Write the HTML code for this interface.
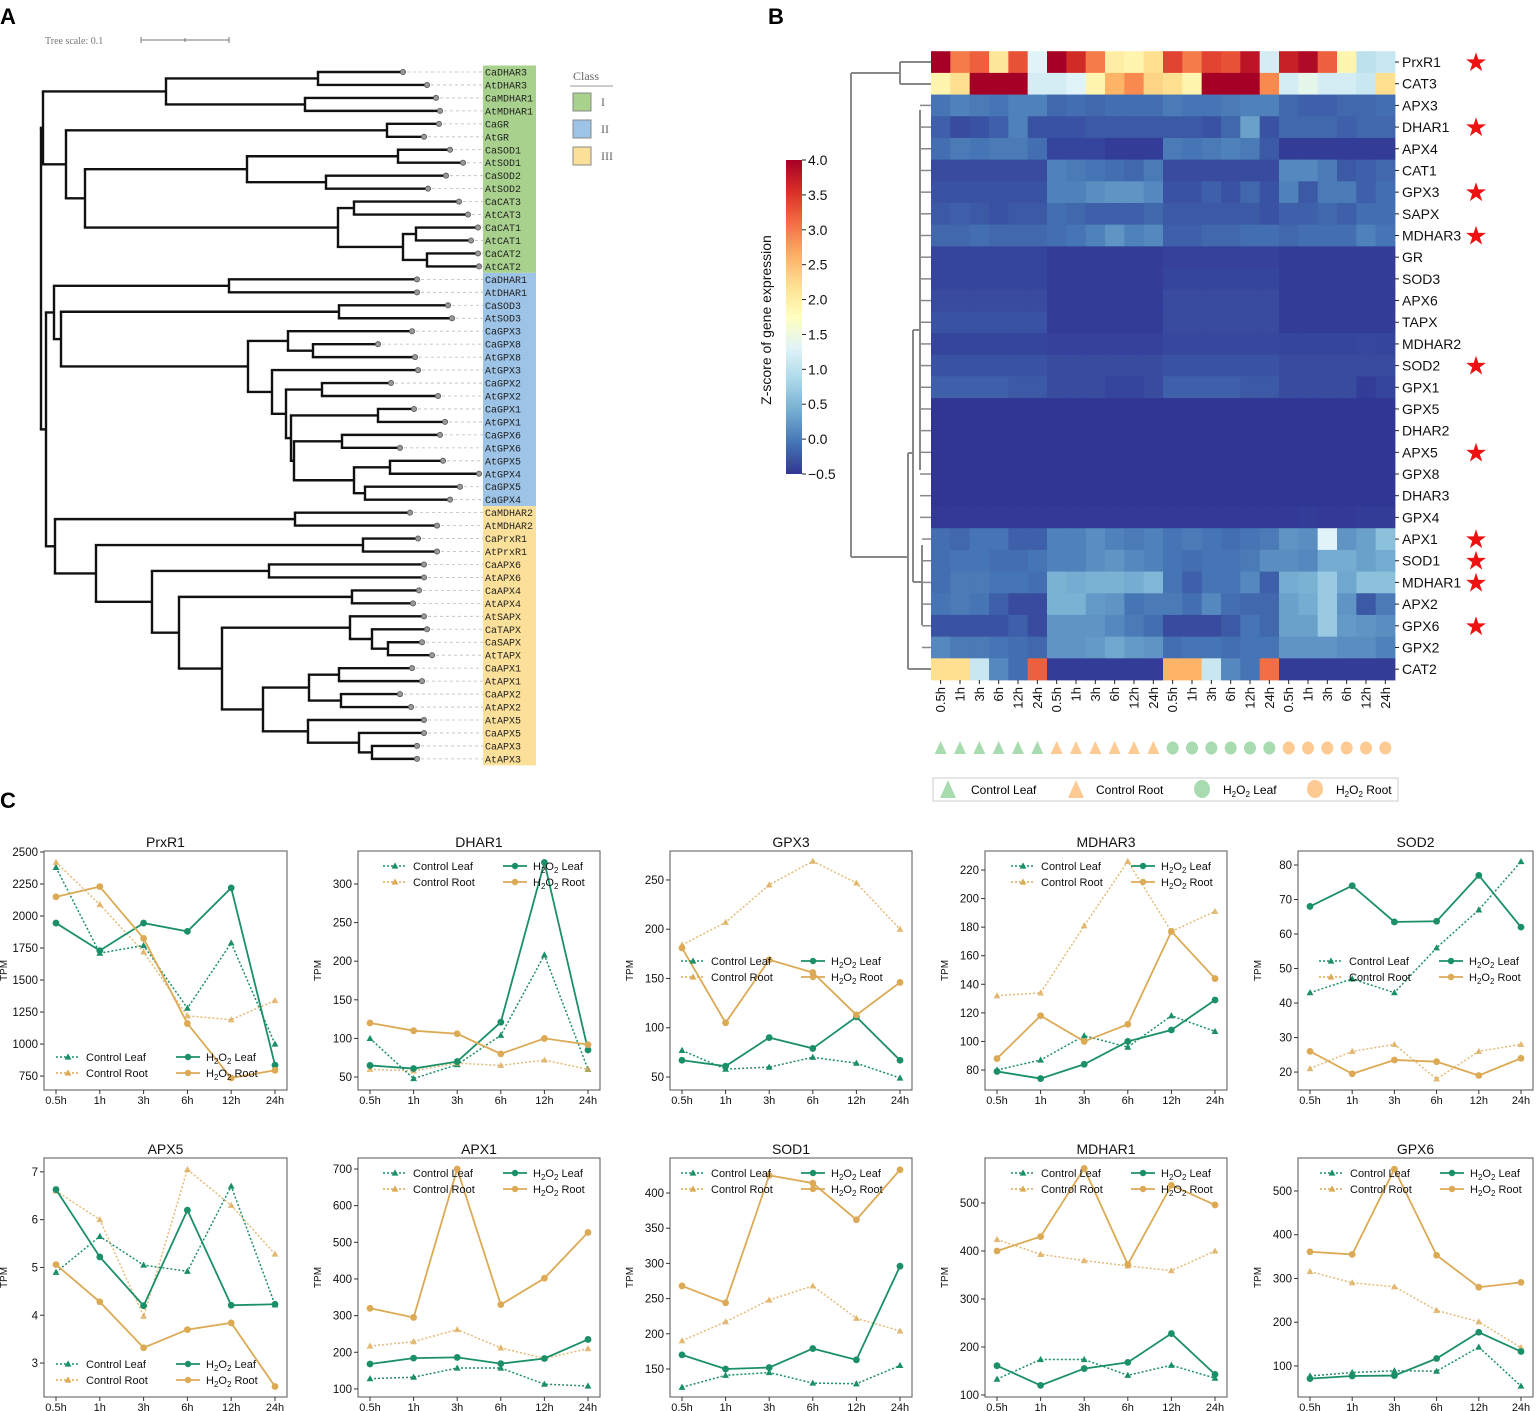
<!DOCTYPE html>
<html><head><meta charset="utf-8"><style>
html,body{margin:0;padding:0;background:#fff}
svg{display:block;font-family:"Liberation Sans",sans-serif}
</style></head><body>
<svg id="fig" width="1536" height="1411" viewBox="0 0 1536 1411" xmlns="http://www.w3.org/2000/svg">
<text x="0" y="24" font-size="22" font-weight="bold">A</text>
<text x="768" y="24" font-size="22" font-weight="bold">B</text>
<text x="0" y="808" font-size="22" font-weight="bold">C</text>
<g>
<text x="45" y="44" font-size="10" fill="#777" font-family="Liberation Serif,serif">Tree scale: 0.1</text>
<line x1="141" y1="40" x2="229" y2="40" stroke="#777" stroke-width="1"/>
<line x1="141" y1="37" x2="141" y2="43" stroke="#777"/><line x1="229" y1="37" x2="229" y2="43" stroke="#777"/><line x1="185" y1="38" x2="185" y2="42" stroke="#777"/>
</g>
<g font-family="Liberation Serif,serif" font-size="12" fill="#666">
<text x="573" y="80">Class</text><line x1="570" y1="86" x2="613" y2="86" stroke="#999"/>
<rect x="573" y="93" width="18" height="18" fill="#a9d18e" stroke="#888"/><text x="601" y="106">I</text>
<rect x="573" y="120" width="18" height="18" fill="#9dc3e6" stroke="#888"/><text x="601" y="133">II</text>
<rect x="573" y="147" width="18" height="18" fill="#fbe09a" stroke="#888"/><text x="601" y="160">III</text>
</g>
<g id="tree"></g>
<g id="heat"></g>
<g id="lines"></g>
</svg>
<script>
const NS="http://www.w3.org/2000/svg";
function mk(p,t,a){const e=document.createElementNS(NS,t);for(const k in a)e.setAttribute(k,a[k]);p.appendChild(e);return e;}

// ---------- Panel A tree ----------
const treeData=[41,
 [43,
  [166,[318,["CaDHAR3",403],["AtDHAR3",427]],[305,["CaMDHAR1",436],["AtMDHAR1",440]]],
  [66,[387,["CaGR",439],["AtGR",424]],
   [85,[247,[398,["CaSOD1",450],["AtSOD1",463]],[326,["CaSOD2",446],["AtSOD2",428]]],
       [338,[354,["CaCAT3",459],["AtCAT3",468]],[403,[416,["CaCAT1",478],["AtCAT1",471]],[427,["CaCAT2",478],["AtCAT2",479]]]]]]],
 [46,
  [54,[229,["CaDHAR1",417],["AtDHAR1",417]],
   [61,[339,["CaSOD3",448],["AtSOD3",452]],
    [248,[288,["CaGPX3",412],[313,["CaGPX8",378],["AtGPX8",415]]],
     [272,["AtGPX3",418],
      [286,[322,["CaGPX2",391],["AtGPX2",438]],
       [291,[378,["CaGPX1",414],["AtGPX1",445]],
        [294,[342,["CaGPX6",440],["AtGPX6",400]],
         [354,[390,["AtGPX5",443],["AtGPX4",479]],[365,["CaGPX5",460],["CaGPX4",450]]]]]]]]]],
  [55,[295,["CaMDHAR2",410],["AtMDHAR2",437]],
   [96,[363,["CaPrxR1",418],["AtPrxR1",437]],
    [152,[269,["CaAPX6",424],["AtAPX6",424]],
     [179,[352,["CaAPX4",419],["AtAPX4",413]],
      [222,[350,["AtSAPX",424],[372,["CaTAPX",427],[388,["CaSAPX",422],["AtTAPX",432]]]],
       [263,[309,[339,["CaAPX1",412],["AtAPX1",422]],[341,["CaAPX2",400],["AtAPX2",411]]],
        [308,["AtAPX5",424],[359,["CaAPX5",424],[372,["CaAPX3",417],["AtAPX3",417]]]]]]]]]]]];
const classSizes=[16,18,20];
const classColors=["#a9d18e","#9dc3e6","#fbe09a"];
const tree=document.getElementById('tree');
let leafIdx=0;const leafY0=72,leafDY=12.96;
const leaves=[];
function walk(n){
  if(typeof n[0]==='string'){const y=leafY0+leafIdx*leafDY;leaves.push({name:n[0],x:n[1],y,i:leafIdx});leafIdx++;return {x:n[1],y};}
  const kids=n.slice(1).map(walk);
  const y=(kids[0].y+kids[kids.length-1].y)/2;
  const v=mk(tree,'line',{x1:n[0],x2:n[0],y1:kids[0].y,y2:kids[kids.length-1].y,stroke:'#111','stroke-width':2.4});
  
  kids.forEach(k=>{const h=mk(tree,'line',{x1:n[0]-1.2,x2:k.x,y1:k.y,y2:k.y,stroke:'#111','stroke-width':2.4});
    });
  return {x:n[0],y};
}
walk(treeData);
let start=0;
classSizes.forEach((s,ci)=>{const r=mk(tree,'rect',{x:483,y:leafY0+start*leafDY-6.5,width:53,height:s*leafDY,fill:classColors[ci]});
  start+=s;});
leaves.forEach(l=>{
  mk(tree,'line',{x1:l.x+4,x2:483,y1:l.y,y2:l.y,stroke:'#bbb','stroke-width':0.8,'stroke-dasharray':'3,3'});
  const c=mk(tree,'circle',{cx:l.x,cy:l.y,r:2.6,fill:'#999',stroke:'#555','stroke-width':0.8});
  
  const t=mk(tree,'text',{x:485,y:l.y+3.5,'font-size':10,'font-family':'Liberation Mono,monospace',fill:'#222'});
  t.textContent=l.name;
});

// ---------- Panel B heatmap ----------
const heatGenes=["PrxR1","CAT3","APX3","DHAR1","APX4","CAT1","GPX3","SAPX","MDHAR3","GR","SOD3","APX6","TAPX","MDHAR2","SOD2","GPX1","GPX5","DHAR2","APX5","GPX8","DHAR3","GPX4","APX1","SOD1","MDHAR1","APX2","GPX6","GPX2","CAT2"];
const starGenes=["PrxR1","DHAR1","GPX3","MDHAR3","SOD2","APX5","APX1","SOD1","MDHAR1","GPX6"];
const heatCols=["0.5h","1h","3h","6h","12h","24h","0.5h","1h","3h","6h","12h","24h","0.5h","1h","3h","6h","12h","24h","0.5h","1h","3h","6h","12h","24h"];
const colGroups=[0,0,0,0,0,0,1,1,1,1,1,1,2,2,2,2,2,2,3,3,3,3,3,3];
const heatZ=[
[4,3,3.2,2.1,3.3,1.3, 4,3.6,3,2,1.9,2.2, 3.4,3,3.4,3.3,3.8,1.2, 3.7,3.9,3.2,1.9,1.0,1.1],
[1.9,2.2,4,4,4,1.2, 1.2,1.3,1.9,2.6,2.9,2.3, 2.2,1.9,4,4,4,2.9, 1.2,1.4,1.2,1.2,1.1,2.2],
[-0.05,0.05,0.0,-0.05,0.05,0.05, -0.15,-0.1,-0.15,-0.1,-0.1,-0.1, 0.0,-0.05,-0.05,0.0,0.05,0.05, -0.15,-0.2,-0.2,-0.15,-0.15,-0.1],
[-0.2,-0.35,-0.3,-0.2,0.05,-0.3, -0.3,-0.3,-0.25,-0.25,-0.25,-0.25, -0.25,-0.25,-0.3,-0.15,0.3,-0.3, -0.15,-0.15,-0.15,-0.2,-0.15,-0.15],
[-0.1,0.0,-0.05,0.0,0.0,-0.1, -0.4,-0.4,-0.4,-0.45,-0.45,-0.45, 0.0,-0.05,0.0,0.05,0.0,-0.25, -0.45,-0.45,-0.45,-0.45,-0.45,-0.45],
[-0.35,-0.35,-0.35,-0.35,-0.35,-0.35, 0.05,0.0,-0.05,-0.1,-0.15,0.0, -0.35,-0.35,-0.35,-0.35,-0.35,-0.35, 0.1,0.1,0.0,-0.25,-0.2,-0.15],
[-0.3,-0.3,-0.3,-0.3,-0.3,-0.3, 0.05,0.05,0.15,0.2,0.2,0.1, -0.3,-0.3,-0.2,-0.3,-0.15,-0.3, 0.05,-0.25,0.0,0.0,-0.2,-0.1],
[-0.25,-0.2,-0.25,-0.3,-0.25,-0.25, -0.1,-0.15,-0.2,-0.2,-0.2,-0.15, -0.25,-0.25,-0.25,-0.25,-0.25,-0.3, -0.2,-0.2,-0.15,-0.2,-0.1,-0.1],
[-0.15,-0.15,-0.1,-0.15,-0.15,-0.15, -0.1,-0.05,0.05,0.2,0.05,0.1, -0.2,-0.2,-0.15,-0.15,-0.1,-0.1, -0.15,-0.1,-0.1,-0.1,0.05,-0.05],
[-0.4,-0.4,-0.4,-0.4,-0.4,-0.4, -0.45,-0.45,-0.45,-0.45,-0.45,-0.45, -0.42,-0.42,-0.42,-0.42,-0.42,-0.42, -0.45,-0.45,-0.45,-0.45,-0.45,-0.45],
[-0.4,-0.4,-0.4,-0.4,-0.4,-0.4, -0.45,-0.45,-0.45,-0.45,-0.45,-0.45, -0.4,-0.4,-0.4,-0.4,-0.4,-0.4, -0.45,-0.45,-0.45,-0.45,-0.45,-0.45],
[-0.35,-0.35,-0.35,-0.35,-0.35,-0.35, -0.45,-0.45,-0.45,-0.45,-0.45,-0.45, -0.35,-0.35,-0.35,-0.35,-0.35,-0.35, -0.45,-0.45,-0.45,-0.45,-0.45,-0.45],
[-0.3,-0.3,-0.3,-0.3,-0.3,-0.3, -0.45,-0.45,-0.45,-0.45,-0.45,-0.45, -0.35,-0.35,-0.35,-0.35,-0.35,-0.35, -0.45,-0.45,-0.45,-0.45,-0.45,-0.45],
[-0.4,-0.4,-0.4,-0.4,-0.4,-0.4, -0.42,-0.42,-0.42,-0.42,-0.42,-0.42, -0.38,-0.38,-0.38,-0.38,-0.38,-0.38, -0.4,-0.4,-0.4,-0.4,-0.38,-0.4],
[-0.3,-0.3,-0.3,-0.3,-0.3,-0.3, -0.35,-0.35,-0.35,-0.35,-0.35,-0.35, -0.3,-0.3,-0.3,-0.3,-0.3,-0.3, -0.35,-0.35,-0.35,-0.35,-0.35,-0.35],
[-0.2,-0.2,-0.2,-0.2,-0.25,-0.25, -0.35,-0.35,-0.35,-0.4,-0.4,-0.35, -0.2,-0.2,-0.2,-0.2,-0.25,-0.25, -0.35,-0.35,-0.35,-0.35,-0.45,-0.4],
[-0.5,-0.5,-0.5,-0.5,-0.5,-0.5, -0.5,-0.5,-0.5,-0.5,-0.5,-0.5, -0.5,-0.5,-0.5,-0.5,-0.5,-0.5, -0.5,-0.5,-0.5,-0.5,-0.5,-0.5],
[-0.5,-0.5,-0.5,-0.5,-0.5,-0.5, -0.5,-0.5,-0.5,-0.5,-0.5,-0.5, -0.5,-0.5,-0.5,-0.5,-0.5,-0.5, -0.5,-0.5,-0.5,-0.5,-0.5,-0.5],
[-0.5,-0.5,-0.5,-0.5,-0.5,-0.5, -0.5,-0.5,-0.5,-0.5,-0.5,-0.5, -0.5,-0.5,-0.5,-0.5,-0.5,-0.5, -0.5,-0.5,-0.5,-0.5,-0.5,-0.5],
[-0.5,-0.5,-0.5,-0.5,-0.5,-0.5, -0.5,-0.5,-0.5,-0.5,-0.5,-0.5, -0.5,-0.5,-0.5,-0.5,-0.5,-0.5, -0.5,-0.5,-0.5,-0.5,-0.5,-0.5],
[-0.5,-0.5,-0.5,-0.5,-0.5,-0.5, -0.5,-0.5,-0.5,-0.5,-0.5,-0.5, -0.5,-0.5,-0.5,-0.5,-0.5,-0.5, -0.5,-0.5,-0.5,-0.5,-0.5,-0.5],
[-0.48,-0.48,-0.48,-0.48,-0.48,-0.48, -0.48,-0.48,-0.48,-0.48,-0.48,-0.48, -0.48,-0.48,-0.48,-0.48,-0.48,-0.48, -0.48,-0.45,-0.48,-0.48,-0.45,-0.45],
[-0.1,-0.15,-0.05,-0.05,-0.2,-0.2, 0.05,0.05,0.15,0.05,0.0,0.05, -0.05,0.0,-0.05,-0.1,-0.05,0.0, 0.2,0.15,1.3,0.2,0.3,0.6],
[-0.1,-0.05,-0.05,-0.1,-0.1,-0.05, 0.05,0.05,0.15,0.2,0.1,0.05, -0.05,-0.1,-0.05,-0.05,0.0,0.15, 0.15,0.1,0.4,0.4,0.3,0.4],
[-0.1,0.0,0.0,-0.05,-0.05,-0.1, 0.45,0.4,0.45,0.45,0.4,0.5, -0.05,-0.2,-0.05,-0.05,0.1,-0.2, 0.4,0.45,0.7,0.35,0.6,0.6],
[-0.05,0.0,-0.05,-0.2,-0.35,-0.35, 0.45,0.45,0.25,0.2,-0.05,0.0, 0.0,-0.1,0.1,-0.1,-0.15,-0.15, 0.3,0.4,0.7,0.2,-0.25,0.0],
[-0.3,-0.3,-0.3,-0.3,-0.2,-0.35, 0.2,0.2,0.2,0.1,0.0,-0.1, -0.35,-0.35,-0.35,-0.25,-0.05,-0.15, 0.3,0.3,0.7,0.25,0.2,0.15],
[0.1,0.0,0.0,-0.05,-0.1,-0.15, 0.2,0.2,0.25,0.35,0.25,0.2, -0.1,-0.05,-0.05,-0.1,-0.05,-0.05, 0.2,0.2,0.2,0.15,0.15,0.05],
[2.2,2.2,1.1,0.1,-0.1,3.2, -0.45,-0.45,-0.45,-0.45,-0.45,-0.45, 2.6,2.6,1.1,0.1,-0.05,3.1, -0.45,-0.45,-0.45,-0.45,-0.45,-0.45]];
const cbTicks=[4.0,3.5,3.0,2.5,2.0,1.5,1.0,0.5,0.0,-0.5];
const zMin=-0.5,zMax=4;
const stops=["#313695","#4575b4","#74add1","#abd9e9","#e0f3f8","#ffffbf","#fee090","#fdae61","#f46d43","#d73027","#a50026"];
function hx(c){return [parseInt(c.substr(1,2),16),parseInt(c.substr(3,2),16),parseInt(c.substr(5,2),16)];}
function cmap(v){let t=(v-zMin)/(zMax-zMin);t=Math.max(0,Math.min(1,t));const p=t*10,i=Math.min(9,Math.floor(p)),f=p-i;
  const a=hx(stops[i]),b=hx(stops[i+1]);return 'rgb('+a.map((x,k)=>Math.round(x+(b[k]-x)*f)).join(',')+')';}
const heat=document.getElementById('heat');
const hx0=931,hy0=51.2,cw=(1395-931)/24,rh=(680-51.2)/29;
heatZ.forEach((row,r)=>{row.forEach((v,c)=>{
  const e=mk(heat,'rect',{x:hx0+c*cw,y:hy0+r*rh,width:cw+0.4,height:rh+0.4,fill:cmap(v)});
  });});
heatGenes.forEach((g,r)=>{const y=hy0+(r+0.5)*rh;
  mk(heat,'line',{x1:1395,x2:1399,y1:y,y2:y,stroke:'#222'});
  const t=mk(heat,'text',{x:1402,y:y+5,'font-size':14,fill:'#111'});t.textContent=g;
  
  if(starGenes.includes(g)){const s=mk(heat,'text',{x:1476,y:y+9,'font-size':26,fill:'#ee1111','text-anchor':'middle'});s.textContent='★';
    }
});
const symColors=["#a8dcb0","#fdca93"];
heatCols.forEach((c,i)=>{const x=hx0+(i+0.5)*cw;
  mk(heat,'line',{x1:x,x2:x,y1:680,y2:684,stroke:'#222'});
  const t=mk(heat,'text',{x:0,y:0,'font-size':13,fill:'#111','text-anchor':'end',transform:`translate(${x+4.5},${687}) rotate(-90)`});t.textContent=c;
  
  const g=colGroups[i],col=symColors[g%2];let s;
  if(g<2){s=mk(heat,'path',{d:`M${x},${741} L${x+6},${754} L${x-6},${754}Z`,fill:col});}
  else{s=mk(heat,'ellipse',{cx:x,cy:748,rx:6,ry:6.5,fill:col});}
  
});
const dend=[[900,62,900,84],[900,62,931,62],[900,84,931,84],[851,73,900,73],[851,73,851,557],[851,557,908,557],
[908,453,908,669],[908,669,931,669],[908,453,913,453],[913,330,913,582],[913,330,920,330],[913,582,922,582],
[920,110,920,470],[922,545,922,625]];
dend.forEach(d=>mk(heat,'line',{x1:d[0],y1:d[1],x2:d[2],y2:d[3],stroke:'#888','stroke-width':2}));
for(let r=2;r<28;r++){const y=hy0+(r+0.5)*rh;const x=(r<22)?(r<9?920:926):922;mk(heat,'line',{x1:x,x2:931,y1:y,y2:y,stroke:'#888','stroke-width':1.5});
  if(r<22) mk(heat,'line',{x1:920,x2:x,y1:y,y2:y,stroke:'#888','stroke-width':1.5});}
const defs=mk(heat,'defs',{});const lg=mk(defs,'linearGradient',{id:'cbg',x1:0,y1:1,x2:0,y2:0});
stops.forEach((c,i)=>mk(lg,'stop',{offset:(i*10)+'%','stop-color':c}));
const cb=mk(heat,'rect',{x:786,y:160,width:16,height:314,fill:'url(#cbg)'});
cbTicks.forEach(v=>{const y=474-(v-zMin)/(zMax-zMin)*314;mk(heat,'line',{x1:802,x2:806,y1:y,y2:y,stroke:'#222'});
  const t=mk(heat,'text',{x:808,y:y+5,'font-size':14,fill:'#111'});t.textContent=(v<0?'\u2212':'')+Math.abs(v).toFixed(1);
  });
const cbl=mk(heat,'text',{x:0,y:0,'font-size':14,fill:'#111','text-anchor':'middle',transform:'translate(771,320) rotate(-90)'});
cbl.textContent='Z-score of gene expression';
const gl=mk(heat,'g',{});
mk(gl,'rect',{x:933,y:778,width:465,height:23,fill:'#fff',stroke:'#ccc'});
mk(gl,'path',{d:'M948,780 L956,798 L940,798Z',fill:symColors[0]});
mk(gl,'path',{d:'M1076,780 L1084,798 L1068,798Z',fill:symColors[1]});
mk(gl,'ellipse',{cx:1202,cy:789,rx:8,ry:9,fill:symColors[0]});
mk(gl,'ellipse',{cx:1315,cy:789,rx:8,ry:9,fill:symColors[1]});
[[971,'Control Leaf'],[1096,'Control Root']].forEach(a=>{const t=mk(gl,'text',{x:a[0],y:794,'font-size':12});t.textContent=a[1];});
[[1223,'Leaf'],[1336,'Root']].forEach(a=>{const t=mk(gl,'text',{x:a[0],y:794,'font-size':12});
  t.innerHTML='H<tspan font-size="8" dy="3">2</tspan><tspan dy="-3">O</tspan><tspan font-size="8" dy="3">2</tspan><tspan dy="-3"> '+a[1]+'</tspan>';});

// ---------- Panel C line charts ----------
const lineGenes=["PrxR1","DHAR1","GPX3","MDHAR3","SOD2","APX5","APX1","SOD1","MDHAR1","GPX6"];
const timeLabels=["0.5h","1h","3h","6h","12h","24h"];
const ctrlLeaf=[[2380,1710,1770,1280,1790,1000],[100,48,66,104,208,60],[77,58,60,70,64,49],[80,87,104,96,118,107],[43,47,43,56,67,81],
 [4.9,5.65,5.05,4.92,6.7,4.22],[128,132,157,157,113,108],[124,141,145,130,129,155],[133,174,174,141,162,135],[77,85,89,88,143,54]];
const ctrlRoot=[[2420,2090,1720,1220,1190,1340],[60,58,68,65,72,60],[184,207,245,269,247,200],[132,134,181,226,177,191],[21,26,28,18,26,28],
 [6.6,6.0,3.98,7.05,6.3,5.28],[217,229,262,212,183,210],[190,217,248,268,222,204],[424,393,380,369,359,400],[316,290,281,227,201,142]];
const h2o2Leaf=[[1945,1730,1945,1880,2220,835],[65,61,70,121,328,85],[67,61,90,79,111,67],[79,74,84,100,108,129],[68,74,63.5,63.7,77,62],
 [6.63,5.22,4.2,6.2,4.21,4.23],[168,184,186,169,183,235],[170,150,152,179,163,296],[161,120,155,168,228,143],[71,77,78,117,177,133]];
const h2o2Root=[[2150,2230,1825,1160,735,795],[120,110,106,80,100,92],[181,105,169,156,113,146],[88,118,100,112,177,144],[26,19.5,23.5,23,19,24],
 [5.06,4.28,3.32,3.7,3.84,2.51],[320,295,700,330,402,527],[268,244,425,414,362,433],[400,430,572,372,537,496],[361,355,550,353,280,291]];
const yTicks=[[750,1000,1250,1500,1750,2000,2250,2500],[50,100,150,200,250,300],[50,100,150,200,250],[80,100,120,140,160,180,200,220],[20,30,40,50,60,70,80],
 [3,4,5,6,7],[100,200,300,400,500,600,700],[150,200,250,300,350,400],[100,200,300,400,500],[100,200,300,400,500]];
const yLims=[[641,2508],[33.2,342.7],[36.8,279.4],[66,233.3],[14.8,84.06],[2.29,7.29],[78,730],[110.2,449.7],[95.8,593.75],[29,575.4]];
const boxLeft=[44,358,670,985,1298,44,358,670,985,1298];
const boxRight=[287,600,912,1227,1533,287,600,912,1227,1533];
const rowTop=[851,851,851,851,851,1158,1158,1158,1158,1158];
const boxH=239;
const legX=[12,25,11,26,21,12,25,11,26,22];
const legY=[1057,866,961,866,961,1364,1173,1173,1173,1173];
const GREEN="#1b8f68",ORANGE="#dcaa55";
const L=document.getElementById('lines');
function h2o2(t,label){t.innerHTML='H<tspan font-size="8" dy="3">2</tspan><tspan dy="-3">O</tspan><tspan font-size="8" dy="3">2</tspan><tspan dy="-3"> '+label+'</tspan>';}
function tri(g,x,y,col,op){return mk(g,'path',{d:`M${x},${y-3.6} L${x+3.4},${y+2.6} L${x-3.4},${y+2.6}Z`,fill:col,'fill-opacity':op});}
lineGenes.forEach((gname,k)=>{
  const g=mk(L,'g',{});
  const x0=boxLeft[k],x1=boxRight[k],y0=rowTop[k],y1=y0+boxH;
  const [lo,hi]=yLims[k];
  const sx=i=>x0+12+i*((x1-x0-24)/5);
  const sy=v=>y1-(v-lo)/(hi-lo)*boxH;
  mk(g,'rect',{x:x0,y:y0,width:x1-x0,height:boxH,fill:'none',stroke:'#555','stroke-width':1});
  const tt=mk(g,'text',{x:(x0+x1)/2,y:y0-4,'font-size':14,'text-anchor':'middle',fill:'#111'});tt.textContent=gname;
  
  yTicks[k].forEach(v=>{const y=sy(v);mk(g,'line',{x1:x0-4,x2:x0,y1:y,y2:y,stroke:'#333'});
    const t=mk(g,'text',{x:x0-6,y:y+4,'font-size':11.5,'text-anchor':'end',fill:'#111'});t.textContent=v;
    });
  timeLabels.forEach((lab,i)=>{const x=sx(i);mk(g,'line',{x1:x,x2:x,y1:y1,y2:y1+4,stroke:'#333'});
    const t=mk(g,'text',{x:x,y:y1+14,'font-size':11,'text-anchor':'middle',fill:'#111'});t.textContent=lab;
    });
  const yl=mk(g,'text',{x:0,y:0,'font-size':10,'text-anchor':'middle',fill:'#111',transform:`translate(${x0-37},${y0+boxH/2}) rotate(-90)`});yl.textContent='TPM';
  
  const series=[[ctrlLeaf[k],GREEN,true,1],[ctrlRoot[k],ORANGE,true,0.8],[h2o2Leaf[k],GREEN,false,1],[h2o2Root[k],ORANGE,false,1]];
  series.forEach(([vals,col,dot,op])=>{
    const pts=vals.map((v,i)=>sx(i)+','+sy(v)).join(' ');
    const pl=mk(g,'polyline',{points:pts,fill:'none',stroke:col,'stroke-width':dot?1.5:1.8,'stroke-dasharray':dot?'2,2':'none','stroke-opacity':op});
    
    vals.forEach((v,i)=>{let m;if(dot)m=tri(g,sx(i),sy(v),col,op);else m=mk(g,'circle',{cx:sx(i),cy:sy(v),r:3.4,fill:col});
      });
  });
  const lx=x0+legX[k],ly=legY[k];
  const lg2=mk(g,'g',{});
  const ent=[[0,0,GREEN,true,'Control Leaf'],[0,16,ORANGE,true,'Control Root'],[120,0,GREEN,false,'Leaf'],[120,16,ORANGE,false,'Root']];
  ent.forEach(([dx,dy,col,dot,lab])=>{
    const yy=ly+dy;
    mk(lg2,'line',{x1:lx+dx,x2:lx+dx+24,y1:yy,y2:yy,stroke:col,'stroke-width':dot?1.5:1.8,'stroke-dasharray':dot?'2,2':'none'});
    if(dot)tri(lg2,lx+dx+12,yy,col,1);else mk(lg2,'circle',{cx:lx+dx+12,cy:yy,r:3.2,fill:col});
    const t=mk(lg2,'text',{x:lx+dx+30,y:yy+4,'font-size':11,fill:'#111'});
    if(dot)t.textContent=lab;else h2o2(t,lab);
  });
});
</script>
</body></html>
